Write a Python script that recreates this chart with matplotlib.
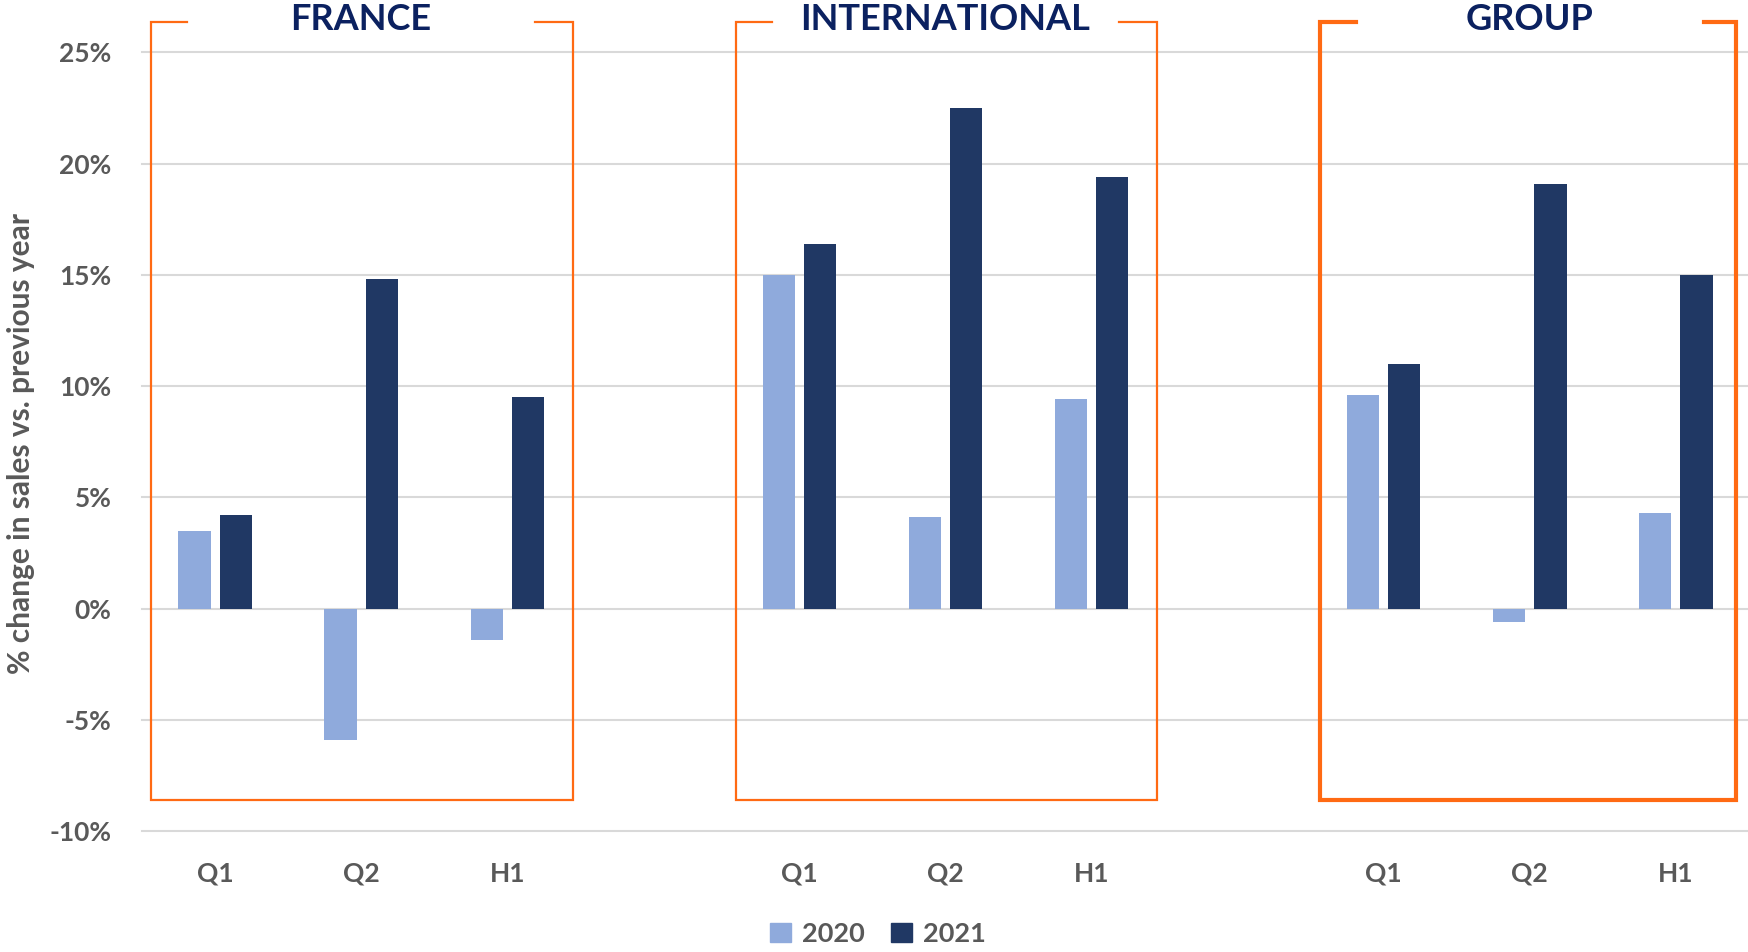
import numpy as np
import matplotlib.pyplot as plt
from matplotlib.patches import Patch

regions = ['FRANCE', 'INTERNATIONAL', 'GROUP']
periods = ['Q1', 'Q2', 'H1']
years = ['2020', '2021']

france_2020 = [3.5, -5.9, -1.4]
france_2021 = [4.2, 14.8, 9.5]
intl_2020 = [15.0, 4.1, 9.4]
intl_2021 = [16.4, 22.5, 19.4]
group_2020 = [9.6, -0.6, 4.3]
group_2021 = [11.0, 19.1, 15.0]

y_ticks = [-10, -5, 0, 5, 10, 15, 20, 25]

light = '#8FAADC'
dark = '#203864'
orange = '#FF6A13'
navy = '#0B2160'
grey = '#595959'

plt.rcParams['font.family'] = ['Lato', 'DejaVu Sans']
plt.rcParams['font.weight'] = 'bold'

fig = plt.figure(figsize=(17.49, 9.52), dpi=100)
ax = fig.add_axes([142 / 1749, 1 - 831 / 952, 1 - 142 / 1749, (831 - 52.4) / 952])

vals_2020 = [france_2020, intl_2020, group_2020]
vals_2021 = [france_2021, intl_2021, group_2021]

w = 0.22
off = 0.141
for g in range(3):
    x = np.arange(3) + 4 * g
    ax.bar(x - off, vals_2020[g], width=w, color=light, zorder=3)
    ax.bar(x + off, vals_2021[g], width=w, color=dark, zorder=3)

    # orange frame, open at the top for the title
    c = 4 * g + 1
    right = 1.41 if g == 2 else 1.45
    xs = [c - 1.19, c - 1.435, c - 1.435, c + right, c + right, c + 1.19]
    ys = [26.36, 26.36, -8.6, -8.6, 26.36, 26.36]
    lw = 3.0 if g == 2 else 1.6
    ax.plot(xs, ys, color=orange, lw=lw, clip_on=False, zorder=4,
            solid_joinstyle='miter')
    if g == 2:
        ax.fill_between([c - 1.17, c + 1.17], 25.1, 26.3, color='white',
                        alpha=0.85, zorder=2, lw=0)
    ax.text(c, 26.5, regions[g], ha='center', va='center', fontsize=26,
            fontweight='bold', color=navy, zorder=5, clip_on=False)

for t in y_ticks:
    ax.axhline(t, color='#D9D9D9', lw=1.5, zorder=1, clip_on=False)

ax.set_xlim(-0.5, 10.5)
ax.set_ylim(-10, 25)
ax.set_yticks(y_ticks)
ax.set_yticklabels([f'{t}%' for t in y_ticks])
xpos = [p for g in range(3) for p in (4 * g, 4 * g + 1, 4 * g + 2)]
ax.set_xticks(xpos)
ax.set_xticklabels(periods * 3)
ax.tick_params(axis='y', length=0, pad=22, labelsize=19, labelcolor=grey)
ax.tick_params(axis='x', length=0, pad=22, labelsize=19, labelcolor=grey)
for s in ax.spines.values():
    s.set_visible(False)

fig.text(21 / 1749, 1 - 443 / 952, '% change in sales vs. previous year',
         rotation=90, ha='center', va='center', fontsize=21.5,
         fontweight='bold', color=grey)

handles = [Patch(color=light), Patch(color=dark)]
fig.legend(handles, years, loc='center', bbox_to_anchor=(0.502, 1 - 934 / 952),
           ncol=2, frameon=False, fontsize=19.5, labelcolor=grey,
           handlelength=0.75, handleheight=0.75, handletextpad=0.4,
           columnspacing=1.0)

fig.savefig('out.png', dpi=100)
